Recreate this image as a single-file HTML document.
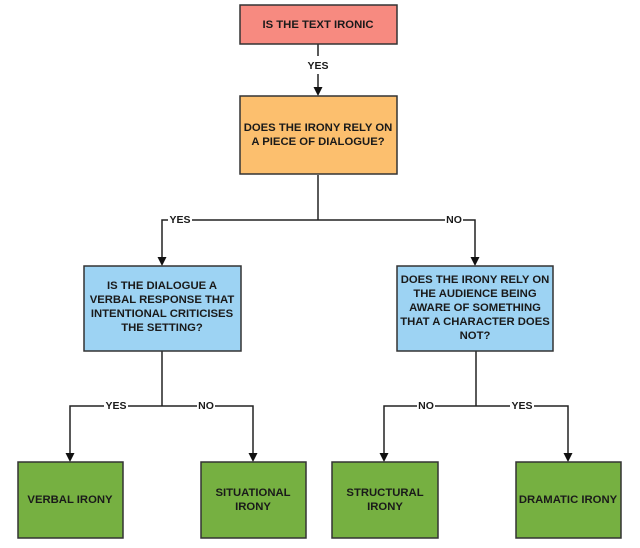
<!DOCTYPE html>
<html><head><style>
html,body{margin:0;padding:0;background:#fff;}
svg{display:block}
text{font-family:"Liberation Sans",Arial,sans-serif;font-weight:bold;font-size:11.3px;fill:#1a1a1a;text-anchor:middle}
.lbl{font-size:10.5px}
</style></head><body>
<svg width="640" height="548" viewBox="0 0 640 548" xmlns="http://www.w3.org/2000/svg">
<g stroke="#222" stroke-width="1.5" fill="none">
<line x1="318" y1="44" x2="318" y2="56"/>
<line x1="318" y1="74" x2="318" y2="90"/>
<line x1="318" y1="175" x2="318" y2="220"/>
<polyline points="162,260 162,220 475,220 475,260"/>
<line x1="162" y1="351" x2="162" y2="406"/>
<polyline points="70,456 70,406 253,406 253,456"/>
<line x1="476" y1="351" x2="476" y2="406"/>
<polyline points="384,456 384,406 568,406 568,456"/>
</g>
<g fill="#111">
<polygon points="313.5,87 322.5,87 318,96"/>
<polygon points="157.5,257 166.5,257 162,266"/>
<polygon points="470.5,257 479.5,257 475,266"/>
<polygon points="65.5,453 74.5,453 70,462"/>
<polygon points="248.5,453 257.5,453 253,462"/>
<polygon points="379.5,453 388.5,453 384,462"/>
<polygon points="563.5,453 572.5,453 568,462"/>
</g>
<g stroke="#333" stroke-width="1.5">
<rect x="240" y="5" width="157" height="39" fill="#f78a80"/>
<rect x="240" y="96" width="157" height="78" fill="#fcbf6e"/>
<rect x="84" y="266" width="157" height="85" fill="#9dd3f3"/>
<rect x="397" y="266" width="156" height="85" fill="#9dd3f3"/>
<rect x="18" y="462" width="105" height="76" fill="#76b041"/>
<rect x="201" y="462" width="105" height="76" fill="#76b041"/>
<rect x="332" y="462" width="106" height="76" fill="#76b041"/>
<rect x="516" y="462" width="105" height="76" fill="#76b041"/>
</g>
<g fill="#fff">
<rect x="304" y="58" width="28" height="14"/>
<rect x="168" y="213" width="24" height="14"/>
<rect x="445" y="213" width="18" height="14"/>
<rect x="104" y="399" width="24" height="14"/>
<rect x="197" y="399" width="18" height="14"/>
<rect x="417" y="399" width="18" height="14"/>
<rect x="510" y="399" width="24" height="14"/>
</g>
<text x="318" y="28">IS THE TEXT IRONIC</text>
<text class="lbl" x="318" y="69">YES</text>
<text x="318" y="131">DOES THE IRONY RELY ON</text>
<text x="318" y="145">A PIECE OF DIALOGUE?</text>
<text class="lbl" x="180" y="223">YES</text>
<text class="lbl" x="454" y="223">NO</text>
<text x="162" y="289">IS THE DIALOGUE A</text>
<text x="162" y="303">VERBAL RESPONSE THAT</text>
<text x="162" y="317">INTENTIONAL CRITICISES</text>
<text x="162" y="331">THE SETTING?</text>
<text x="475" y="283">DOES THE IRONY RELY ON</text>
<text x="475" y="297">THE AUDIENCE BEING</text>
<text x="475" y="311">AWARE OF SOMETHING</text>
<text x="475" y="325">THAT A CHARACTER DOES</text>
<text x="475" y="339">NOT?</text>
<text class="lbl" x="116" y="409">YES</text>
<text class="lbl" x="206" y="409">NO</text>
<text class="lbl" x="426" y="409">NO</text>
<text class="lbl" x="522" y="409">YES</text>
<text x="70" y="503">VERBAL IRONY</text>
<text x="253" y="496">SITUATIONAL</text>
<text x="253" y="510">IRONY</text>
<text x="385" y="496">STRUCTURAL</text>
<text x="385" y="510">IRONY</text>
<text x="568" y="503">DRAMATIC IRONY</text>
</svg>
</body></html>
